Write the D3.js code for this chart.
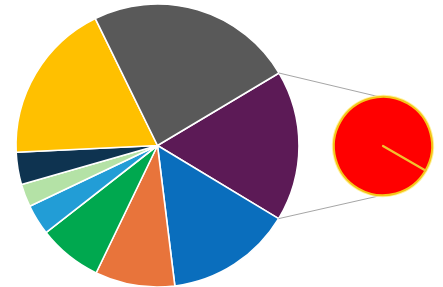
<!DOCTYPE html>
<html><head><meta charset="utf-8">
<script src="https://cdn.jsdelivr.net/npm/d3@7"></script>
<style>html,body{margin:0;padding:0;background:#fff;}svg{display:block;}</style>
</head><body>
<script>
const categories = ["A","B","C","D","E","F","G","H","I"];
const values = [17.2, 14.4, 9.1, 7.3, 3.5, 2.6, 3.7, 18.5, 23.7];
const colors = ["#5c1a56","#0a6ebd","#e8743b","#00a84f","#229dd6","#b4e2a6","#0e3350","#ffc000","#595959"];
const subCategories = ["A"];
const subValues = [17.2];
const subColors = ["#ff0000"];

const W = 443, H = 287;
const svg = d3.select("body").append("svg").attr("width", W).attr("height", H);

const defs = svg.append("defs");
defs.append("filter").attr("id","glow").attr("x","-20%").attr("y","-20%").attr("width","140%").attr("height","140%")
  .append("feGaussianBlur").attr("stdDeviation", 0.7);

const cx = 157.5, cy = 145.5, R = 141.5;
const deg = Math.PI / 180;
const start = 59.2 * deg;
const pie = d3.pie().sort(null).value(d => d).startAngle(start).endAngle(start + 2 * Math.PI);
const arc = d3.arc().innerRadius(0).outerRadius(R);
const arcs = pie(values);

const g = svg.append("g").attr("transform", `translate(${cx},${cy})`);
g.selectAll("path").data(arcs).join("path")
  .attr("d", arc)
  .attr("fill", (d, i) => colors[i])
  .attr("stroke", "#fff")
  .attr("stroke-width", 1.6)
  .attr("stroke-linejoin", "round");

// secondary pie
const sx = 383, sy = 146, r = 49;
const subPie = d3.pie().sort(null).value(d => d).startAngle(120 * deg).endAngle(120 * deg + 2 * Math.PI);
const subArc = d3.arc().innerRadius(0).outerRadius(r);
const subArcs = subPie(subValues);

// connector lines from "other" slice boundaries
const other = arcs[0];
const p1 = d3.pointRadial(other.startAngle, R);
const p2 = d3.pointRadial(other.endAngle, R);
const conn = svg.append("g").attr("stroke", "#a6a6a6").attr("stroke-width", 1).attr("fill", "none");
conn.append("line").attr("x1", cx + p1[0]).attr("y1", cy + p1[1]).attr("x2", sx - 3).attr("y2", sy - r);
conn.append("line").attr("x1", cx + p2[0]).attr("y1", cy + p2[1]).attr("x2", sx).attr("y2", sy + r);

const sg = svg.append("g").attr("transform", `translate(${sx},${sy})`);
sg.selectAll("path.glow").data(subArcs).join("path")
  .attr("class","glow")
  .attr("d", subArc)
  .attr("fill", "none")
  .attr("stroke", "#fff3a0")
  .attr("stroke-width", 4)
  .attr("filter", "url(#glow)");
sg.selectAll("path.slice").data(subArcs).join("path")
  .attr("class","slice")
  .attr("d", subArc)
  .attr("fill", (d, i) => subColors[i])
  .attr("stroke", "#f5c518")
  .attr("stroke-width", 2)
  .attr("stroke-linejoin", "round");
// slice border radius (start of the full-circle slice)
sg.selectAll("line.edge").data(subArcs).join("line")
  .attr("class","edge")
  .attr("x1", 0).attr("y1", 0)
  .attr("x2", d => d3.pointRadial(d.startAngle, r)[0])
  .attr("y2", d => d3.pointRadial(d.startAngle, r)[1])
  .attr("stroke", "#f2c12e")
  .attr("stroke-width", 2.2)
  .attr("stroke-linecap", "round");
</script>
</body></html>
